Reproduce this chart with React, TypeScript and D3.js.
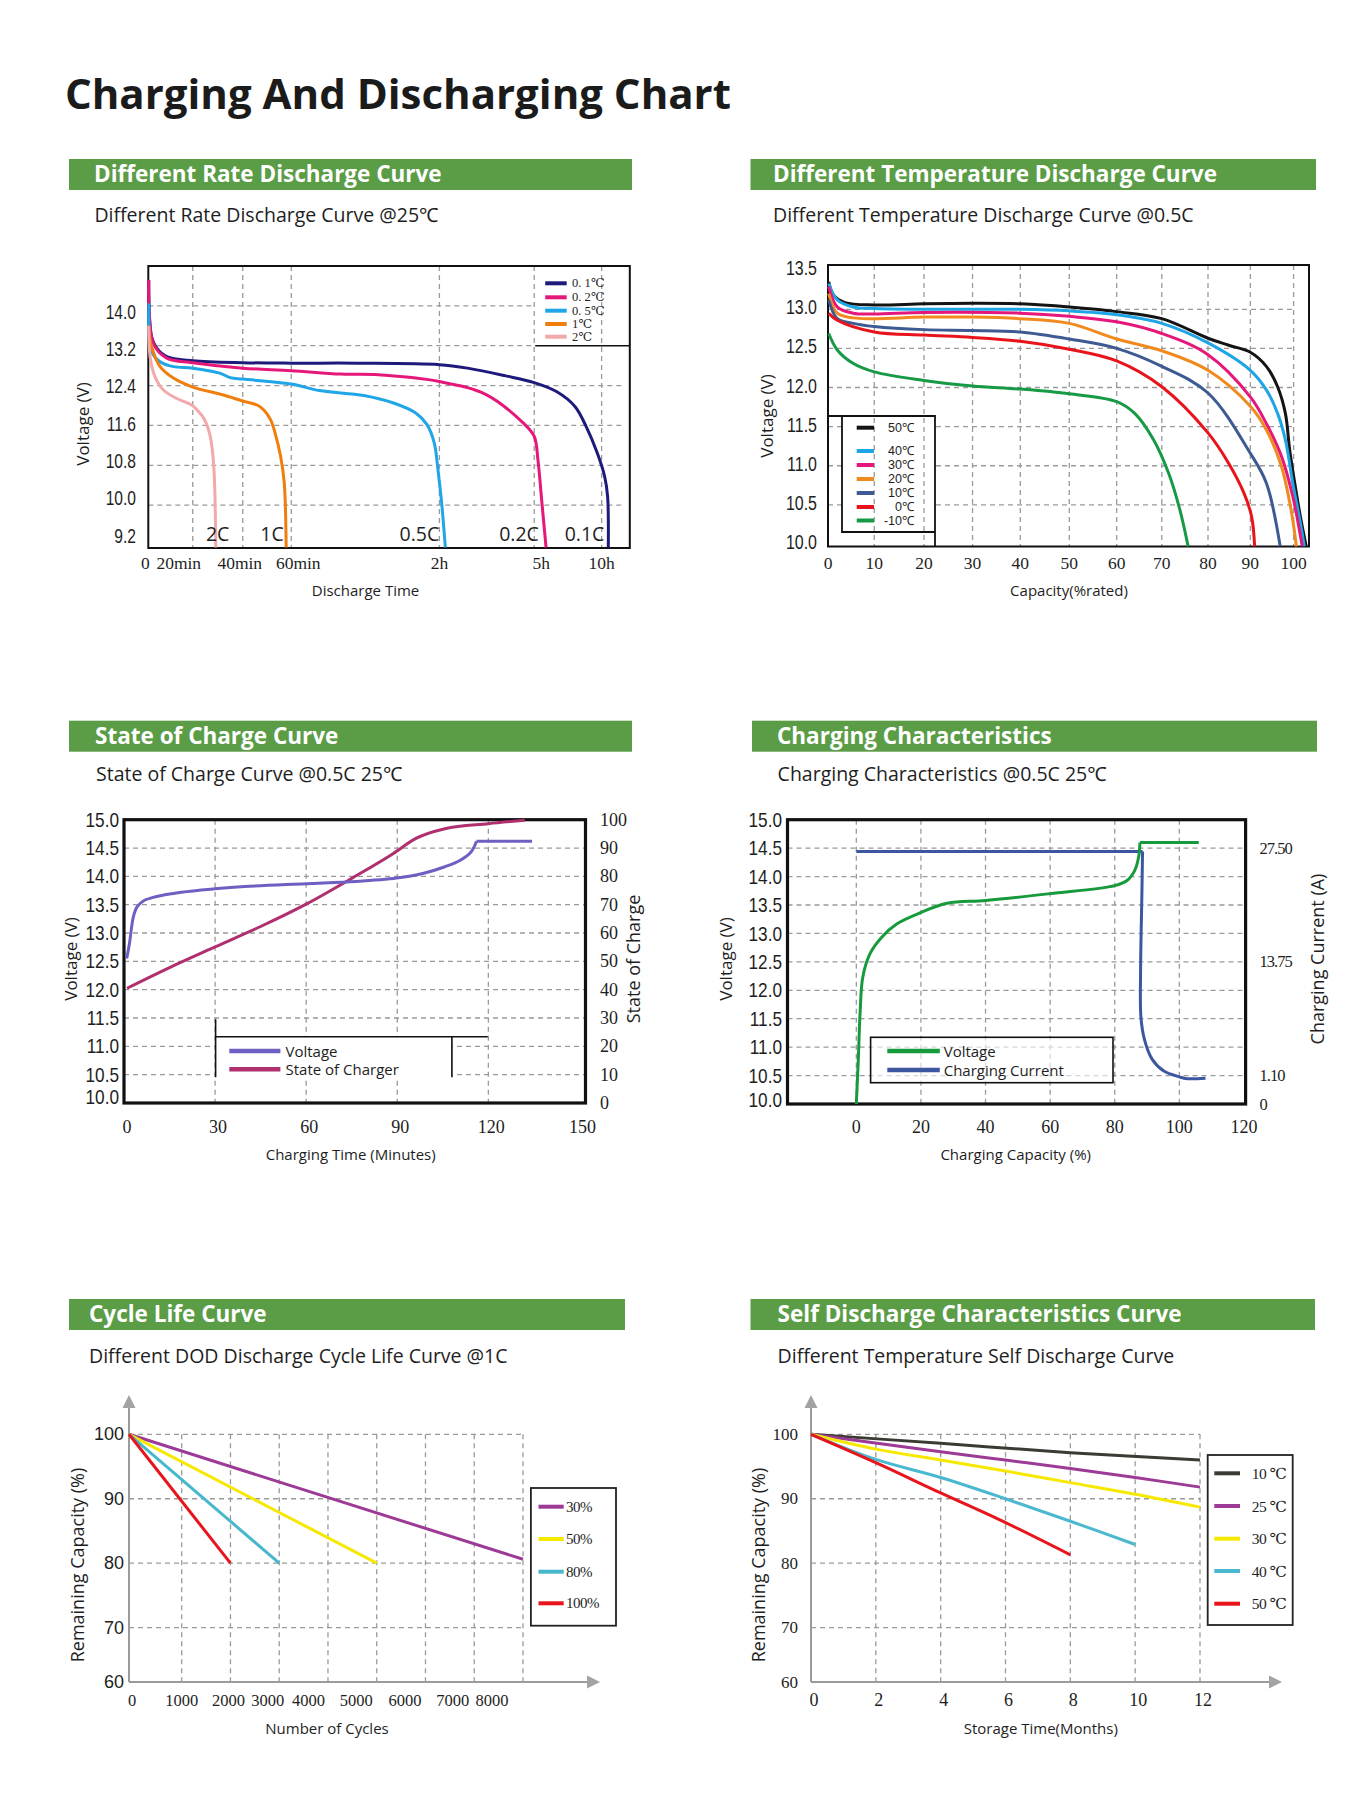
import React from "react";
import * as d3 from "d3";

type Pt = [number, number];

// ---------------- Panel 1: Different Rate Discharge Curve (minutes, volts)
const rateBreaks = [0, 20, 40, 60, 120, 300, 600, 720];
const rateTickValues = [0, 20, 40, 60, 120, 300, 600];
const rateTickLabels = ["0", "20min", "40min", "60min", "2h", "5h", "10h"];
const rateVoltTicks = [14.0, 13.2, 12.4, 11.6, 10.8, 10.0, 9.2];
const rateGridVolts = [14.0, 13.2, 12.4, 11.6, 10.8, 10.0];
const rateLegendNames = ["0. 1℃", "0. 2℃", "0. 5℃", "1℃", "2℃"];
const rateCurveNames = ["0.1C", "0.2C", "0.5C", "1C", "2C"];
const rate01C: Pt[] = [[0.2, 14.52], [1.5, 13.38], [3.8, 13.15], [8.3, 12.98], [20, 12.9], [40, 12.86], [60, 12.85], [86.4, 12.85], [120, 12.82], [173.4, 12.75], [243.8, 12.6], [300, 12.46], [398.9, 12.28], [481.3, 11.98], [530.8, 11.58], [580.2, 11.05], [612.6, 10.58], [625.3, 10.18], [628.4, 9.15]];
const rate02C: Pt[] = [[0.2, 14.52], [2.25, 13.25], [8.3, 12.95], [20, 12.86], [40, 12.75], [60, 12.7], [80, 12.63], [93.9, 12.62], [120, 12.48], [208.6, 12.22], [278.9, 11.65], [300, 11.38], [316.5, 10.91], [333, 10.11], [352.7, 9.15]];
const rate05C: Pt[] = [[0.3, 14.05], [1.5, 13.08], [5.3, 12.88], [11.3, 12.78], [20, 12.75], [30.8, 12.65], [35, 12.56], [40, 12.53], [60, 12.43], [71.4, 12.3], [89.4, 12.2], [101.4, 12.05], [110.4, 11.85], [114.9, 11.62], [117.9, 11.25], [119.4, 10.71], [124.2, 10.05], [131.25, 9.15]];
const rate1C: Pt[] = [[0.1, 13.6], [1.5, 13.18], [5.3, 12.78], [11.3, 12.55], [20, 12.37], [32.3, 12.21], [40, 12.09], [45.9, 12.01], [48.7, 11.91], [51.5, 11.71], [53.3, 11.45], [55.6, 10.98], [57.1, 10.45], [57.9, 9.15]];
const rate2C: Pt[] = [[0.2, 13.6], [0.8, 12.98], [3.0, 12.58], [6.8, 12.31], [12.8, 12.14], [19.5, 12.01], [23.0, 11.84], [24.7, 11.72], [27, 11.38], [28.4, 10.78], [29.2, 9.15]];
const rateSeries = [rate01C, rate02C, rate05C, rate1C, rate2C];
const rateColors = ["#1d1a7c", "#e5187a", "#1fa6e7", "#f07e0c", "#f3a9ab"];

// ---------------- Panel 2: Different Temperature Discharge Curve (% rated, volts)
const tempBreaks = [0, 10, 20, 30, 40, 50, 60, 70, 80, 90, 100, 103.3];
const tempTickValues = [0, 10, 20, 30, 40, 50, 60, 70, 80, 90, 100];
const tempVoltTicks = [13.5, 13.0, 12.5, 12.0, 11.5, 11.0, 10.5, 10.0];
const tempGridVolts = [13.0, 12.5, 12.0, 11.5, 11.0, 10.5];
const tempNames = ["50℃", "40℃", "30℃", "20℃", "10℃", "0℃", "-10℃"];
const temp50: Pt[] = [[0.16, 13.35], [1.2, 13.18], [3.7, 13.085], [10, 13.055], [20, 13.07], [30, 13.077], [40, 13.07], [50, 13.03], [60, 12.97], [70, 12.88], [80, 12.63], [84.9, 12.54], [90, 12.45], [93.7, 12.27], [96.3, 12.01], [98.1, 11.67], [99.1, 11.2], [100.24, 10.78], [101.45, 10.35], [102.7, 9.97]];
const temp40: Pt[] = [[0.16, 13.33], [2.0, 13.12], [5.4, 13.03], [10, 13.01], [20, 13.0], [40, 13.0], [50, 12.98], [60, 12.93], [70, 12.82], [80, 12.57], [90, 12.22], [93.7, 11.97], [96.3, 11.67], [98.1, 11.33], [99.8, 10.78], [101.45, 10.27], [102.3, 9.97]];
const temp30: Pt[] = [[0.16, 13.29], [2.0, 13.03], [5.4, 12.95], [10, 12.94], [20, 12.96], [40, 12.95], [50, 12.91], [60, 12.84], [70, 12.69], [80, 12.42], [90, 11.88], [93.7, 11.54], [97.2, 11.12], [99.8, 10.61], [101.85, 9.97]];
const temp20: Pt[] = [[0.16, 13.2], [2.0, 12.95], [5.4, 12.89], [10, 12.88], [20, 12.9], [30, 12.9], [40, 12.88], [50, 12.82], [60, 12.62], [70, 12.47], [80, 12.22], [90, 11.76], [93.7, 11.46], [97.2, 10.99], [99.4, 10.44], [100.6, 9.97]];
const temp10: Pt[] = [[0.16, 13.12], [2.0, 12.88], [5.4, 12.82], [10, 12.78], [20, 12.74], [30, 12.73], [40, 12.71], [50, 12.62], [60, 12.5], [70, 12.27], [80, 11.93], [90, 11.16], [93.7, 10.78], [96.9, 9.97]];
const temp0: Pt[] = [[0.16, 12.95], [2.0, 12.86], [10, 12.71], [20, 12.67], [30, 12.64], [40, 12.59], [50, 12.49], [60, 12.34], [70, 12.01], [80, 11.42], [84.9, 11.03], [88.5, 10.65], [90.3, 10.35], [91.0, 9.97]];
const tempM10: Pt[] = [[0.16, 12.69], [2.0, 12.48], [5.4, 12.31], [10, 12.2], [20, 12.09], [30, 12.02], [40, 11.98], [50, 11.92], [60, 11.82], [64, 11.67], [68.2, 11.33], [71.5, 10.9], [73.9, 10.44], [75.7, 9.97]];
const tempSeries = [temp50, temp40, temp30, temp20, temp10, temp0, tempM10];
const tempColors = ["#141414", "#1ea5e6", "#e6177a", "#f08a1e", "#3e5a92", "#e8141c", "#169a45"];

// ---------------- Panel 3: State of Charge Curve (minutes)
const socTimeTicks = [0, 30, 60, 90, 120, 150];
const socVoltTicks = [15.0, 14.5, 14.0, 13.5, 13.0, 12.5, 12.0, 11.5, 11.0, 10.5, 10.0];
const socPctTicks = [100, 90, 80, 70, 60, 50, 40, 30, 20, 10, 0];
const socVoltage: Pt[] = [[0.9, 12.55], [1.8, 12.82], [3.1, 13.29], [4.3, 13.46], [6.5, 13.57], [10.4, 13.64], [18.9, 13.72], [29.9, 13.78], [39.7, 13.82], [59.9, 13.87], [76.4, 13.91], [89.8, 13.97], [98.4, 14.05], [105.7, 14.17], [110.6, 14.28], [114.3, 14.43], [116.1, 14.62], [134.4, 14.62]];
const socCharge: Pt[] = [[1.0, 40.5], [15, 47.8], [30, 55.1], [45, 62.3], [60, 70.2], [75, 79.3], [88.6, 88.0], [96, 93.3], [105.7, 96.8], [120, 98.6], [132, 99.8]];
const socNames = ["Voltage", "State of Charger"];
const socColors = ["#6e5fc3", "#b0306f"];

// ---------------- Panel 4: Charging Characteristics (% capacity)
const chgCapTicks = [0, 20, 40, 60, 80, 100, 120];
const chgVoltTicks = [15.0, 14.5, 14.0, 13.5, 13.0, 12.5, 12.0, 11.5, 11.0, 10.5, 10.0];
const chgCurrentTicks = [27.5, 13.75, 1.1, 0];
const chgCurrentLabels = ["27.50", "13.75", "1.10", "0"];
const chgVoltAtCurrent = [14.5, 12.5, 10.5, 10.0];
const chgVoltage: Pt[] = [[0, 10.0], [0.6, 10.76], [1.2, 11.64], [2.0, 12.23], [4.2, 12.64], [7.8, 12.93], [12.6, 13.17], [20.1, 13.37], [28.1, 13.53], [40.1, 13.58], [60, 13.7], [80, 13.84], [83.8, 13.93], [86.2, 14.11], [87.4, 14.35], [87.8, 14.6], [106, 14.6]];
const chgCurrent: Pt[] = [[0, 27.1], [88.6, 27.1], [88.4, 22], [88.0, 13], [88.1, 7.6], [89.2, 5.1], [91.6, 2.9], [95.2, 1.6], [100, 1.05], [102.4, 0.98], [108.1, 1.0]];
const chgNames = ["Voltage", "Charging Current"];
const chgColors = ["#179a3c", "#3c57a0"];

// ---------------- Panel 5: Cycle Life Curve
const cycleTicks = [0, 1000, 2000, 3000, 4000, 5000, 6000, 7000, 8000];
const capTicks = [100, 90, 80, 70, 60];
const cycleDod30: Pt[] = [[0, 100], [8000, 80.6]];
const cycleDod50: Pt[] = [[0, 100], [5000, 80]];
const cycleDod80: Pt[] = [[0, 100], [3000, 80]];
const cycleDod100: Pt[] = [[0, 100], [2000, 80]];
const cycleSeries = [cycleDod30, cycleDod50, cycleDod80, cycleDod100];
const cycleNames = ["30%", "50%", "80%", "100%"];
const cycleColors = ["#9c3a96", "#f7e800", "#47b8cc", "#e8141c"];

// ---------------- Panel 6: Self Discharge
const monthTicks = [0, 2, 4, 6, 8, 10, 12];
const selfT10: Pt[] = [[0, 100], [4, 98.6], [8, 97.15], [12, 96.0]];
const selfT25: Pt[] = [[0, 100], [4, 97.3], [6, 96.0], [8, 94.7], [10, 93.3], [12, 91.8]];
const selfT30: Pt[] = [[0, 100], [2, 97.7], [4, 96.0], [6, 94.3], [8, 92.5], [10, 90.7], [12, 88.7]];
const selfT40: Pt[] = [[0, 100], [2, 96.1], [4, 93.3], [6, 90.0], [8, 86.5], [10, 82.9]];
const selfT50: Pt[] = [[0, 100], [2, 95.6], [4, 90.9], [6, 86.3], [8, 81.3]];
const selfSeries = [selfT10, selfT25, selfT30, selfT40, selfT50];
const selfNames = ["10 ℃", "25 ℃", "30 ℃", "40 ℃", "50 ℃"];
const selfColors = ["#3b3b33", "#9c3a96", "#f7e800", "#4ab9cf", "#e8141c"];

// ---------------- styling / layout
const SANS = "'Open Sans', 'Noto Sans', sans-serif";
const NUM = "'Liberation Sans', Arial, sans-serif";
const SERIF = "'Liberation Serif', 'DejaVu Serif', serif";
const GREEN = "#5b9c46";
const GRID = "#9a9a9a";
const TXT = "#1e1e1e";
const smooth = d3.curveCatmullRom.alpha(0.5);
const rateLabelNudge = [-3, -14, -3, 7, 0, 7, 0];
const cycleLabelNudge = [3, 0, -2, -11.5, -19.5, -20.5, -20.5, -21.5, -31];

function pathOf(xs: (v: number) => number, ys: (v: number) => number, pts: Pt[], curve: any = smooth) {
  return d3.line<Pt>().x((d) => xs(d[0])).y((d) => ys(d[1])).curve(curve)(pts) || "";
}

function Header({ x, y, w, tx, title, sub, subX, subY }: any) {
  return (
    <g>
      <rect x={x} y={y} width={w} height={31} fill={GREEN} />
      <text x={tx} y={y + 23} fill="#fff" fontFamily={SANS} fontWeight={700} fontSize={22.5}>{title}</text>
      <text x={subX} y={subY} fill={TXT} fontFamily={SANS} fontSize={19.5}>{sub}</text>
    </g>
  );
}

function VTitle({ x, y, text, size = 17 }: any) {
  return (
    <text transform={`translate(${x},${y}) rotate(-90)`} textAnchor="middle" dominantBaseline="central" fontFamily={SANS} fontSize={size} fill={TXT}>{text}</text>
  );
}

function Narrow({ x, y, text, size, sx }: any) {
  return (
    <text transform={`translate(${x},${y}) scale(${sx},1)`} textAnchor="end" dominantBaseline="central" fontFamily={NUM} fontSize={size} fill={TXT}>{text}</text>
  );
}

function Panel1() {
  const B = { l: 148.3, r: 629.8, t: 266, b: 548 };
  const fr = [0, 0.0923, 0.1962, 0.2969, 0.6046, 0.8015, 0.9415, 1];
  const x = d3.scaleLinear().domain(rateBreaks).range(fr.map((f) => B.l + f * (B.r - B.l)));
  const y = d3.scaleLinear().domain([9.14, 14.8]).range([B.b, B.t]);
  const yLab = d3.scaleLinear().domain([9.2, 14.0]).range([536, 312]);
  const legendY = [283.3, 297.3, 310.7, 324, 336.7];
  const labelX = [584.5, 519, 419.4, 272, 217.6];
  return (
    <g>
      <Header x={69} y={159} w={563} tx={94} title="Different Rate Discharge Curve" sub="Different Rate Discharge Curve @25℃" subX={94.4} subY={222} />
      {rateGridVolts.map((v) => (
        <line key={"h" + v} x1={B.l} x2={v === 13.2 || v === 14.0 ? 535 : 622} y1={y(v)} y2={y(v)} stroke={GRID} strokeWidth={1.3} strokeDasharray="5,4" />
      ))}
      {rateTickValues.slice(1).map((v) => (
        <line key={"v" + v} x1={x(v)} x2={x(v)} y1={B.t} y2={B.b} stroke={GRID} strokeWidth={1.3} strokeDasharray="5,4" />
      ))}
      <rect x={B.l} y={B.t} width={B.r - B.l} height={B.b - B.t} fill="none" stroke="#111" strokeWidth={2} />
      {rateSeries.map((s, i) => (
        <path key={i} d={pathOf(x, y, s)} fill="none" stroke={rateColors[i]} strokeWidth={3} strokeLinejoin="round" />
      ))}
      <line x1={535.2} x2={B.r} y1={y(13.2)} y2={y(13.2)} stroke="#111" strokeWidth={1.6} />
      {rateLegendNames.map((n, i) => (
        <g key={n}>
          <line x1={545.2} x2={566.7} y1={legendY[i]} y2={legendY[i]} stroke={rateColors[i]} strokeWidth={4} />
          <text x={572} y={legendY[i]} dominantBaseline="central" fontFamily={SERIF} fontSize={12.5} fill={TXT}>{n}</text>
        </g>
      ))}
      {rateCurveNames.map((n, i) => (
        <text key={n} x={labelX[i]} y={533} textAnchor="middle" dominantBaseline="central" fontFamily={SANS} fontSize={19.5} fill={TXT}>{n}</text>
      ))}
      {rateVoltTicks.map((v) => (
        <Narrow key={v} x={136} y={yLab(v)} text={v.toFixed(1)} size={19.5} sx={0.8} />
      ))}
      {rateTickValues.map((v, i) => (
        <text key={v} x={x(v) + rateLabelNudge[i]} y={563} textAnchor="middle" dominantBaseline="central" fontFamily={SERIF} fontSize={17.5} fill={TXT}>{rateTickLabels[i]}</text>
      ))}
      <VTitle x={82} y={424} text="Voltage (V)" />
      <text x={365.5} y={590} textAnchor="middle" dominantBaseline="central" fontFamily={SANS} fontSize={15} fill={TXT}>Discharge Time</text>
    </g>
  );
}

function Panel2() {
  const B = { l: 828, r: 1309, t: 265, b: 546.5 };
  const fr = [0, 0.0962, 0.1995, 0.3005, 0.3998, 0.5016, 0.6002, 0.694, 0.79, 0.878, 0.968, 1];
  const x = d3.scaleLinear().domain(tempBreaks).range(fr.map((f) => B.l + f * (B.r - B.l)));
  const y = d3.scaleLinear().domain([9.968, 13.566]).range([B.b, B.t]);
  const legendY = [427.7, 451, 465, 479, 493, 507, 520.5];
  return (
    <g>
      <Header x={750.5} y={159} w={565.5} tx={773} title="Different Temperature Discharge Curve" sub="Different Temperature Discharge Curve @0.5C" subX={773} subY={222} />
      {tempGridVolts.map((v) => (
        <line key={"h" + v} x1={B.l} x2={x(100)} y1={y(v)} y2={y(v)} stroke={GRID} strokeWidth={1.3} strokeDasharray="5,4" />
      ))}
      <rect x={842} y={416} width={935 - 842} height={532 - 416} fill="#fff" />
      {tempTickValues.slice(1).map((v) => (
        <line key={"v" + v} x1={x(v)} x2={x(v)} y1={B.t} y2={B.b} stroke={GRID} strokeWidth={1.3} strokeDasharray="5,4" />
      ))}
      <rect x={B.l} y={B.t} width={B.r - B.l} height={B.b - B.t} fill="none" stroke="#111" strokeWidth={2} />
      {tempSeries.map((s, i) => (
        <path key={i} d={pathOf(x, y, s)} fill="none" stroke={tempColors[i]} strokeWidth={3} strokeLinejoin="round" />
      ))}
      <path d={`M${B.l},416H935V${B.b}M842,416V532H935`} fill="none" stroke="#111" strokeWidth={1.8} />
      {tempNames.map((n, i) => (
        <g key={n}>
          <line x1={856.7} x2={874} y1={legendY[i]} y2={legendY[i]} stroke={tempColors[i]} strokeWidth={4} />
          <text x={914} y={legendY[i]} textAnchor="end" dominantBaseline="central" fontFamily={NUM} fontSize={12.5} fill={TXT}>{n}</text>
        </g>
      ))}
      {tempVoltTicks.map((v) => (
        <Narrow key={v} x={817} y={y(v) - 1.5} text={v.toFixed(1)} size={19.5} sx={0.82} />
      ))}
      {tempTickValues.map((v) => (
        <text key={v} x={x(v)} y={563} textAnchor="middle" dominantBaseline="central" fontFamily={SERIF} fontSize={17.5} fill={TXT}>{v}</text>
      ))}
      <VTitle x={766} y={416} text="Voltage (V)" />
      <text x={1069} y={590} textAnchor="middle" dominantBaseline="central" fontFamily={SANS} fontSize={15} fill={TXT}>Capacity(%rated)</text>
    </g>
  );
}

function Panel3() {
  const B = { l: 124, r: 585.5, t: 819.7, b: 1103 };
  const x = d3.scaleLinear().domain([0, 152]).range([B.l, B.r]);
  const y = d3.scaleLinear().domain([10, 15]).range([B.b, B.t]);
  const yS = d3.scaleLinear().domain([0, 100]).range([B.b, B.t]);
  const legendY = [1051, 1069.3];
  return (
    <g>
      <Header x={69} y={720.7} w={563} tx={95} title="State of Charge Curve" sub="State of Charge Curve @0.5C 25℃" subX={96} subY={781} />
      {socVoltTicks.slice(1, -1).map((v) => (
        <line key={"h" + v} x1={B.l} x2={B.r} y1={y(v)} y2={y(v)} stroke={GRID} strokeWidth={1.3} strokeDasharray="5,4" />
      ))}
      {socTimeTicks.slice(1, -1).map((v) => (
        <line key={"v" + v} x1={x(v)} x2={x(v)} y1={B.t} y2={B.b} stroke={GRID} strokeWidth={1.3} strokeDasharray="5,4" />
      ))}
      <rect x={215.6} y={1036.7} width={451.9 - 215.6} height={1077.3 - 1036.7} fill="#fff" />
      <rect x={B.l} y={B.t} width={B.r - B.l} height={B.b - B.t} fill="none" stroke="#111" strokeWidth={3.2} />
      <path d={pathOf(x, yS, socCharge, d3.curveMonotoneX)} fill="none" stroke={socColors[1]} strokeWidth={3} />
      <path d={pathOf(x, y, socVoltage.slice(0, -1))} fill="none" stroke={socColors[0]} strokeWidth={3} />
      <path d={pathOf(x, y, socVoltage.slice(-2), d3.curveLinear)} fill="none" stroke={socColors[0]} strokeWidth={3} />
      <path d={`M215.6,1019.3V1077.3M215.6,1036.7H487.8M451.9,1036.7V1077.3`} fill="none" stroke="#111" strokeWidth={1.6} />
      {socNames.map((n, i) => (
        <g key={n}>
          <line x1={229.3} x2={280.4} y1={legendY[i]} y2={legendY[i]} stroke={socColors[i]} strokeWidth={4.5} />
          <text x={285.5} y={legendY[i]} dominantBaseline="central" fontFamily={SANS} fontSize={15} fill={TXT}>{n}</text>
        </g>
      ))}
      {socVoltTicks.map((v) => (
        <Narrow key={v} x={119} y={v === 10 ? y(v) - 6 : y(v)} text={v.toFixed(1)} size={21} sx={0.82} />
      ))}
      {socPctTicks.map((v) => (
        <text key={v} x={600} y={yS(v)} dominantBaseline="central" fontFamily={SERIF} fontSize={18} fill={TXT}>{v}</text>
      ))}
      {socTimeTicks.map((v) => (
        <text key={v} x={x(v) + 3} y={1127} textAnchor="middle" dominantBaseline="central" fontFamily={SERIF} fontSize={18} fill={TXT}>{v}</text>
      ))}
      <VTitle x={70} y={959} text="Voltage (V)" size={17} />
      <VTitle x={633} y={959} text="State of Charge" size={18} />
      <text x={350.7} y={1154} textAnchor="middle" dominantBaseline="central" fontFamily={SANS} fontSize={15} fill={TXT}>Charging Time (Minutes)</text>
    </g>
  );
}

function Panel4() {
  const B = { l: 787.5, r: 1245.6, t: 819.7, b: 1104 };
  const x = d3.scaleLinear().domain([-21.3, 120.5]).range([B.l, B.r]);
  const y = d3.scaleLinear().domain([10, 15]).range([B.b, B.t]);
  const yI = d3.scaleLinear().domain([0, 1.1, 13.75, 27.5]).range([10, 10.5, 12.5, 14.5].map((v) => y(v)));
  const legendY = [1051, 1070];
  const vUp = chgVoltage.slice(0, -1);
  const vFlat = chgVoltage.slice(-2);
  return (
    <g>
      <Header x={752} y={720.7} w={565} tx={777} title="Charging Characteristics" sub="Charging Characteristics @0.5C 25℃" subX={777.6} subY={781} />
      {chgVoltTicks.slice(1, -1).map((v) => (
        <line key={"h" + v} x1={B.l} x2={B.r} y1={y(v)} y2={y(v)} stroke={GRID} strokeWidth={1.3} strokeDasharray="5,4" />
      ))}
      {chgCapTicks.slice(0, -1).map((v) => (
        <line key={"v" + v} x1={x(v)} x2={x(v)} y1={B.t} y2={B.b} stroke={GRID} strokeWidth={1.3} strokeDasharray="5,4" />
      ))}
      <rect x={B.l} y={B.t} width={B.r - B.l} height={B.b - B.t} fill="none" stroke="#111" strokeWidth={3.2} />
      <rect x={870.6} y={1037.3} width={1113 - 870.6} height={1082.7 - 1037.3} fill="#fff" fillOpacity={0.6} stroke="#111" strokeWidth={1.6} />
      <path d={pathOf(x, yI, chgCurrent.slice(0, 2), d3.curveLinear)} fill="none" stroke={chgColors[1]} strokeWidth={3} />
      <path d={pathOf(x, yI, chgCurrent.slice(1))} fill="none" stroke={chgColors[1]} strokeWidth={3} />
      <path d={pathOf(x, y, vUp)} fill="none" stroke={chgColors[0]} strokeWidth={3} />
      <path d={pathOf(x, y, vFlat, d3.curveLinear)} fill="none" stroke={chgColors[0]} strokeWidth={3} />
      {chgNames.map((n, i) => (
        <g key={n}>
          <line x1={887.3} x2={939.8} y1={legendY[i]} y2={legendY[i]} stroke={chgColors[i]} strokeWidth={4.5} />
          <text x={943.7} y={legendY[i]} dominantBaseline="central" fontFamily={SANS} fontSize={15} fill={TXT}>{n}</text>
        </g>
      ))}
      {chgVoltTicks.map((v) => (
        <Narrow key={v} x={782} y={v === 10 ? y(v) - 4 : y(v)} text={v.toFixed(1)} size={21} sx={0.82} />
      ))}
      {chgCurrentTicks.map((v, i) => (
        <text key={v} x={1259.6} y={y(chgVoltAtCurrent[i])} dominantBaseline="central" fontFamily={SERIF} fontSize={16.5} letterSpacing={-1} fill={TXT}>{chgCurrentLabels[i]}</text>
      ))}
      {chgCapTicks.map((v) => (
        <text key={v} x={x(v)} y={1127} textAnchor="middle" dominantBaseline="central" fontFamily={SERIF} fontSize={18} fill={TXT}>{v}</text>
      ))}
      <VTitle x={725} y={959} text="Voltage (V)" size={17} />
      <VTitle x={1317} y={959} text="Charging Current (A)" size={18} />
      <text x={1015.7} y={1154} textAnchor="middle" dominantBaseline="central" fontFamily={SANS} fontSize={15} fill={TXT}>Charging Capacity (%)</text>
    </g>
  );
}

function Arrows({ ax, ay, topY, rightX }: any) {
  return (
    <g>
      <line x1={ax} x2={ax} y1={ay} y2={topY + 10} stroke="#9b9b9b" strokeWidth={2} />
      <line x1={ax} x2={rightX - 10} y1={ay} y2={ay} stroke="#9b9b9b" strokeWidth={2} />
      <path d={`M${ax},${topY}L${ax - 6.5},${topY + 13}L${ax + 6.5},${topY + 13}Z`} fill="#a3a3a3" />
      <path d={`M${rightX},${ay}L${rightX - 13},${ay - 6.5}L${rightX - 13},${ay + 6.5}Z`} fill="#a3a3a3" />
    </g>
  );
}

function Panel5() {
  const x = d3.scaleLinear().domain([0, 1000, 8000]).range([129, 181.7, 523]);
  const y = d3.scaleLinear().domain([60, 70, 100]).range([1682, 1627.6, 1434.3]);
  const legendY = [1506.7, 1539, 1571.7, 1603.3];
  return (
    <g>
      <Header x={69} y={1299} w={556} tx={89} title="Cycle Life Curve" sub="Different DOD Discharge Cycle Life Curve @1C" subX={89} subY={1363} />
      {capTicks.slice(0, -1).map((v) => (
        <line key={"h" + v} x1={x(0)} x2={x(8000)} y1={y(v)} y2={y(v)} stroke={GRID} strokeWidth={1.3} strokeDasharray="5,4" />
      ))}
      {cycleTicks.slice(1).map((v) => (
        <line key={"v" + v} x1={x(v)} x2={x(v)} y1={y(100)} y2={y(60)} stroke={GRID} strokeWidth={1.3} strokeDasharray="5,4" />
      ))}
      <Arrows ax={129} ay={1682} topY={1395} rightX={600} />
      {cycleSeries.map((s, i) => (
        <path key={i} d={pathOf(x, y, s, d3.curveLinear)} fill="none" stroke={cycleColors[i]} strokeWidth={3} />
      ))}
      <rect x={530.9} y={1488} width={616 - 530.9} height={1625.7 - 1488} fill="#fff" stroke="#222" strokeWidth={1.8} />
      {cycleNames.map((n, i) => (
        <g key={n}>
          <line x1={538.5} x2={563.7} y1={legendY[i]} y2={legendY[i]} stroke={cycleColors[i]} strokeWidth={4} />
          <text x={566} y={legendY[i]} dominantBaseline="central" fontFamily={SERIF} fontSize={15} letterSpacing={-0.5} fill={TXT}>{n}</text>
        </g>
      ))}
      {capTicks.map((v) => (
        <text key={v} x={124} y={y(v)} textAnchor="end" dominantBaseline="central" fontFamily={NUM} fontSize={18} fill={TXT}>{v}</text>
      ))}
      {cycleTicks.map((v, i) => (
        <text key={v} x={x(v) + cycleLabelNudge[i]} y={1700} textAnchor="middle" dominantBaseline="central" fontFamily={SERIF} fontSize={16.5} fill={TXT}>{v}</text>
      ))}
      <VTitle x={77} y={1565} text="Remaining Capacity (%)" size={18} />
      <text x={327} y={1728} textAnchor="middle" dominantBaseline="central" fontFamily={SANS} fontSize={15} fill={TXT}>Number of Cycles</text>
    </g>
  );
}

function Panel6() {
  const x = d3.scaleLinear().domain([0, 12]).range([811, 1200]);
  const y = d3.scaleLinear().domain([60, 70, 100]).range([1682, 1627.6, 1434.3]);
  const legendY = [1473.3, 1506, 1538.7, 1571, 1603.7];
  return (
    <g>
      <Header x={750.5} y={1299} w={564.5} tx={777.6} title="Self Discharge Characteristics Curve" sub="Different Temperature Self Discharge Curve" subX={777.6} subY={1363} />
      {capTicks.slice(0, -1).map((v) => (
        <line key={"h" + v} x1={x(0)} x2={x(12)} y1={y(v)} y2={y(v)} stroke={GRID} strokeWidth={1.3} strokeDasharray="5,4" />
      ))}
      {monthTicks.slice(1).map((v) => (
        <line key={"v" + v} x1={x(v)} x2={x(v)} y1={y(100)} y2={y(60)} stroke={GRID} strokeWidth={1.3} strokeDasharray="5,4" />
      ))}
      <Arrows ax={811} ay={1682} topY={1395} rightX={1282} />
      {selfSeries.map((s, i) => (
        <path key={i} d={pathOf(x, y, s)} fill="none" stroke={selfColors[i]} strokeWidth={3} />
      ))}
      <rect x={1207.7} y={1455} width={1292.7 - 1207.7} height={1625 - 1455} fill="#fff" stroke="#222" strokeWidth={1.8} />
      {selfNames.map((n, i) => (
        <g key={n}>
          <line x1={1214.3} x2={1240} y1={legendY[i]} y2={legendY[i]} stroke={selfColors[i]} strokeWidth={4} />
          <text x={1251.7} y={legendY[i]} dominantBaseline="central" fontFamily={SERIF} fontSize={15.5} letterSpacing={-0.5} fill={TXT}>{n}</text>
        </g>
      ))}
      {capTicks.map((v) => (
        <text key={v} x={798} y={y(v)} textAnchor="end" dominantBaseline="central" fontFamily={SERIF} fontSize={17} fill={TXT}>{v}</text>
      ))}
      {monthTicks.map((v) => (
        <text key={v} x={x(v) + 3} y={1700} textAnchor="middle" dominantBaseline="central" fontFamily={SERIF} fontSize={18} fill={TXT}>{v}</text>
      ))}
      <VTitle x={758} y={1565} text="Remaining Capacity (%)" size={18} />
      <text x={1040.8} y={1728} textAnchor="middle" dominantBaseline="central" fontFamily={SANS} fontSize={15} fill={TXT}>Storage Time(Months)</text>
    </g>
  );
}

export default function App() {
  return (
    <svg width={1365} height={1800} viewBox="0 0 1365 1800" style={{ position: "absolute", left: 0, top: 0, background: "#fff" }}>
      <rect width={1365} height={1800} fill="#fff" />
      <text x={65} y={109} fontFamily={SANS} fontWeight={700} fontSize={42} fill="#1b1b1b">Charging And Discharging Chart</text>
      <Panel1 />
      <Panel2 />
      <Panel3 />
      <Panel4 />
      <Panel5 />
      <Panel6 />
    </svg>
  );
}
